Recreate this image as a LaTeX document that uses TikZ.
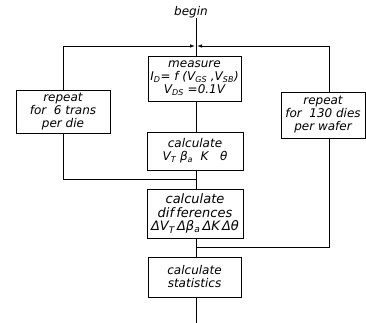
\documentclass[tikz,border=0pt]{standalone}
\usepackage{fontspec}
\setmainfont{DejaVu Sans}
\usetikzlibrary{arrows.meta}
\begin{document}
\begin{tikzpicture}[x=1pt,y=-1pt,
  every node/.style={font=\fontsize{12}{13}\selectfont\itshape},
  box/.style={draw, line width=0.7pt, align=center, inner sep=0pt},
  lbl/.style={inner sep=0pt},
  conn/.style={line width=0.8pt},
  arr/.style={conn, -{Latex[length=5pt,width=3.5pt]}}]
\useasboundingbox (0,0) rectangle (366,323);
\node[lbl] (begin) at (191,12) {begin};
\node[box, minimum width=93pt, minimum height=45pt] (meas) at (194.5,78.5)
  {measure\\I\textsubscript{D}= f (V\textsubscript{GS} ,V\textsubscript{SB})\\V\textsubscript{DS} =0.1V};
\node[box, minimum width=96pt, minimum height=38pt] (calc) at (195,151)
  {calculate\\V\textsubscript{T}\ β\textsubscript{a}\ \ K\ \ \ θ};
\node[box, minimum width=96pt, minimum height=49pt,
  font=\fontsize{13}{13.5}\selectfont\itshape] (diff) at (195,213.5)
  {calculate\\dif\,ferences\\ΔV\textsubscript{T}\,Δβ\textsubscript{a}\,ΔK\,Δθ};
\node[box, minimum width=93pt, minimum height=40pt] (stat) at (194.5,277)
  {calculate\\statistics};
\node[box, minimum width=94pt, minimum height=43pt] (lrep) at (63,111.5)
  {repeat\\for\ \ 6 trans\\per die};
\node[box, minimum width=84pt, minimum height=46pt] (rrep) at (323,115)
  {repeat\\for\ \ 130 dies\\per wafer};
% trunk coordinates
\coordinate (jtop) at (196,46);
\coordinate (jl) at (63,46);
\coordinate (jr) at (329,46);
\coordinate (rtop) at (329,92);
\coordinate (rbot) at (329,138);
\coordinate (lcorner) at (63,179);
\coordinate (ljoin) at (196,179);
\coordinate (rcorner) at (329,247);
\coordinate (rjoin) at (196,247);
\coordinate (fin) at (196,323);
\draw[conn] (jtop |- begin.south) -- (jtop |- meas.north);
\draw[arr] (lrep.north) -- (jl) -- ([xshift=-1pt]jtop);
\draw[arr] (rtop) -- (jr) -- ([xshift=1pt]jtop);
\draw[conn] (meas.south -| jtop) -- (calc.north -| jtop);
\draw[conn] (calc.south -| jtop) -- (diff.north -| jtop);
\draw[conn] (diff.south -| jtop) -- (stat.north -| jtop);
\draw[conn] (stat.south -| jtop) -- (fin);
\draw[conn] (lrep.south) -- (lcorner) -- (ljoin);
\draw[conn] (rbot) -- (rcorner) -- (rjoin);
\end{tikzpicture}
\end{document}
